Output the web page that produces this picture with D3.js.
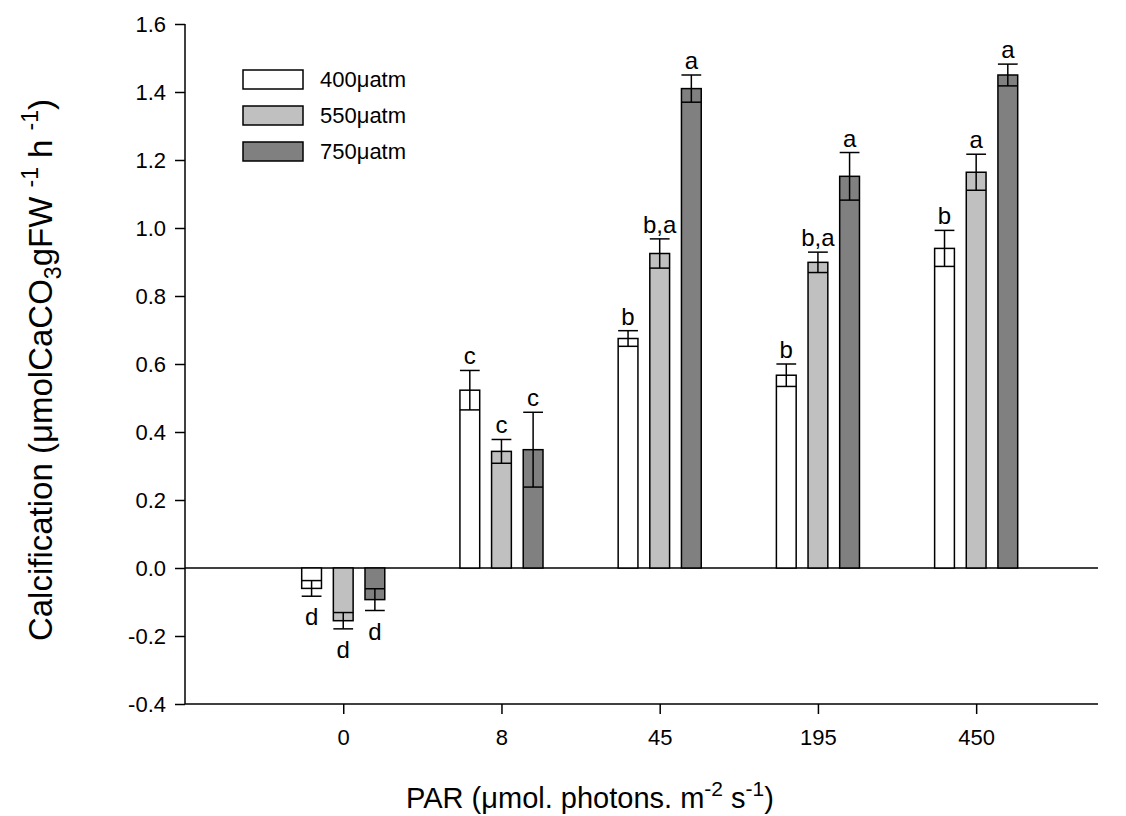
<!DOCTYPE html>
<html>
<head>
<meta charset="utf-8">
<script src="https://cdn.jsdelivr.net/npm/d3@7"></script>
<style>
  html, body { margin: 0; padding: 0; background: #fff; }
  svg { display: block; }
  text { font-family: "Liberation Sans", Arial, sans-serif; fill: #000; }
</style>
</head>
<body>
<svg id="chart" width="1126" height="816"></svg>
<script>
// PAR levels (x categories)
const parLevels = ["0", "8", "45", "195", "450"];
// pCO2 treatments
const treatments = ["400\u03bcatm", "550\u03bcatm", "750\u03bcatm"];
const fills = ["#ffffff", "#c0c0c0", "#808080"];

// Calcification means and standard errors per treatment
const mean400 = [-0.06, 0.523, 0.675, 0.567, 0.94];
const se400   = [0.023, 0.058, 0.023, 0.033, 0.053];
const mean550 = [-0.155, 0.343, 0.925, 0.899, 1.164];
const se550   = [0.024, 0.035, 0.043, 0.030, 0.053];
const mean750 = [-0.093, 0.348, 1.41, 1.152, 1.45];
const se750   = [0.032, 0.110, 0.040, 0.070, 0.032];

// Significance letters
const sig400 = ["d", "c", "b", "b", "b"];
const sig550 = ["d", "c", "b,a", "b,a", "a"];
const sig750 = ["d", "c", "a", "a", "a"];

const yTicks = [-0.4, -0.2, 0.0, 0.2, 0.4, 0.6, 0.8, 1.0, 1.2, 1.4, 1.6];

const series = [
  { name: treatments[0], fill: fills[0], mean: mean400, se: se400, sig: sig400 },
  { name: treatments[1], fill: fills[1], mean: mean550, se: se550, sig: sig550 },
  { name: treatments[2], fill: fills[2], mean: mean750, se: se750, sig: sig750 }
];

const svg = d3.select("#chart");

const plotLeft = 185, plotRight = 1098, plotTop = 24, plotBottom = 704;

const x = d3.scaleLinear().domain([0, 5.77]).range([plotLeft, plotRight]);
const y = d3.scaleLinear().domain([-0.4, 1.6]).range([plotBottom, plotTop]);

const unit = x(1) - x(0);
const barW = unit * 0.125;
const offsets = [-0.2, 0, 0.2];

const fmt = d3.format(".1f");

// Axes
const yAxis = d3.axisLeft(y).tickValues(yTicks).tickSize(10).tickPadding(9)
  .tickFormat((d) => fmt(d).replace("\u2212", "-"));
const gy = svg.append("g").attr("transform", `translate(${plotLeft},0)`).call(yAxis);
gy.attr("font-size", 22).attr("font-family", "Liberation Sans, Arial, sans-serif");
gy.select(".domain").attr("stroke", "#000").attr("stroke-width", 1.5).attr("d", `M0,${plotTop}V${plotBottom}`);
gy.selectAll(".tick line").attr("stroke", "#000").attr("stroke-width", 1.5);

const xAxis = d3.axisBottom(x).tickValues(parLevels.map((d, i) => i + 1))
  .tickFormat((d) => parLevels[d - 1]).tickSize(10).tickPadding(15);
const gx = svg.append("g").attr("transform", `translate(0,${plotBottom})`).call(xAxis);
gx.attr("font-size", 22).attr("font-family", "Liberation Sans, Arial, sans-serif");
gx.select(".domain").attr("stroke", "#000").attr("stroke-width", 1.5).attr("d", `M${plotLeft},0H${plotRight}`);
gx.selectAll(".tick line").attr("stroke", "#000").attr("stroke-width", 1.5);

// Zero reference line
svg.append("line")
  .attr("x1", plotLeft).attr("x2", plotRight)
  .attr("y1", y(0)).attr("y2", y(0))
  .attr("stroke", "#000").attr("stroke-width", 1.5);

// Bars, error bars, letters
series.forEach((s, si) => {
  const g = svg.append("g");
  s.mean.forEach((m, i) => {
    const cx = x(i + 1 + offsets[si]);
    const x0 = cx - barW / 2;
    g.append("rect")
      .attr("x", x0).attr("width", barW)
      .attr("y", Math.min(y(m), y(0)))
      .attr("height", Math.abs(y(m) - y(0)))
      .attr("fill", s.fill).attr("stroke", "#000").attr("stroke-width", 1.5);
    const hi = y(m + s.se[i]), lo = y(m - s.se[i]);
    g.append("line").attr("x1", cx).attr("x2", cx).attr("y1", hi).attr("y2", lo)
      .attr("stroke", "#000").attr("stroke-width", 1.5);
    [hi, lo].forEach((yy) => {
      g.append("line").attr("x1", x0).attr("x2", x0 + barW).attr("y1", yy).attr("y2", yy)
        .attr("stroke", "#000").attr("stroke-width", 1.5);
    });
    const t = g.append("text")
      .attr("x", cx)
      .attr("text-anchor", "middle")
      .style("font-size", "24px")
      .text(s.sig[i]);
    if (m >= 0) t.attr("y", hi - 6);
    else t.attr("y", lo + 29);
  });
});

// Legend
const legend = svg.append("g");
series.forEach((s, i) => {
  const yy = 70 + i * 36;
  legend.append("rect").attr("x", 243).attr("y", yy).attr("width", 60).attr("height", 19)
    .attr("fill", s.fill).attr("stroke", "#000").attr("stroke-width", 1.5);
  legend.append("text").attr("x", 320).attr("y", yy + 17)
    .style("font-size", "22px").text(s.name);
});

// Axis titles
const yt = svg.append("text")
  .attr("transform", `translate(52,370) rotate(-90)`)
  .attr("text-anchor", "middle")
  .style("font-size", "33px");
yt.append("tspan").text("Calcification (\u03bcmolCaCO");
yt.append("tspan").attr("dy", 9).style("font-size", "23px").text("3");
yt.append("tspan").attr("dy", -9).text("gFW ");
yt.append("tspan").attr("dy", -14).style("font-size", "23px").text("-1");
yt.append("tspan").attr("dy", 14).text(" h ");
yt.append("tspan").attr("dy", -14).style("font-size", "23px").text("-1");
yt.append("tspan").attr("dy", 14).text(")");

const xt = svg.append("text")
  .attr("x", 590).attr("y", 808)
  .attr("text-anchor", "middle")
  .style("font-size", "29px");
xt.append("tspan").text("PAR (\u03bcmol. photons. m");
xt.append("tspan").attr("dy", -12).style("font-size", "21px").text("-2");
xt.append("tspan").attr("dy", 12).text(" s");
xt.append("tspan").attr("dy", -12).style("font-size", "21px").text("-1");
xt.append("tspan").attr("dy", 12).text(")");
</script>
</body>
</html>
